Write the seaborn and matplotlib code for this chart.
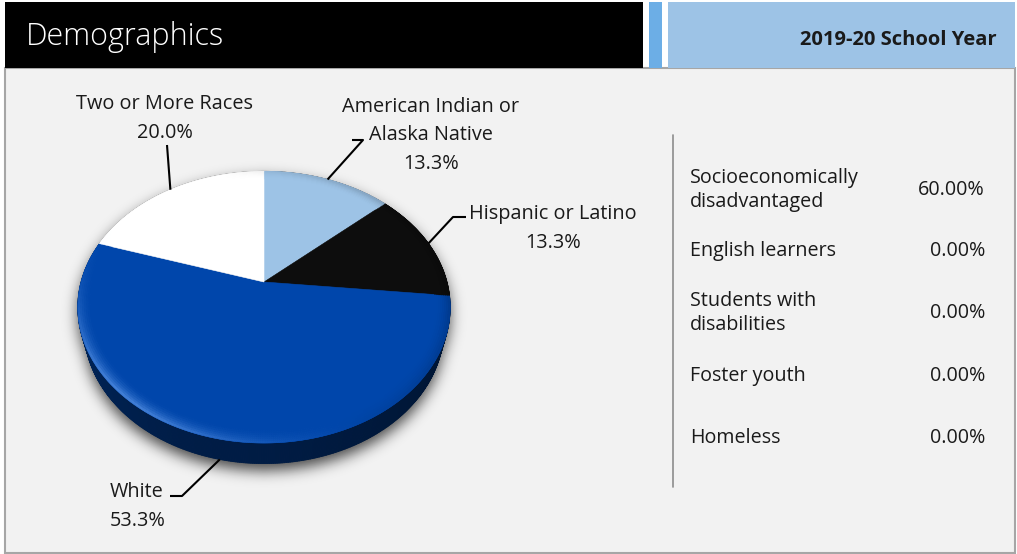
import numpy as np
import matplotlib
matplotlib.use("Agg")
import matplotlib.pyplot as plt
import matplotlib.colors as mcolors
from matplotlib.patches import Polygon, Rectangle
from matplotlib.collections import PolyCollection
from matplotlib.path import Path
import seaborn as sns

sns.set_theme(style="white")
plt.rcParams["font.family"] = ["Open Sans", "DejaVu Sans"]

# ---- data -------------------------------------------------------------
title = "Demographics"
year_label = "2019-20 School Year"

groups = ["American Indian or\nAlaska Native", "Hispanic or Latino", "White", "Two or More Races"]
shares = [13.3, 13.3, 53.3, 20.0]
slice_colors = sns.color_palette(["#9dc3e6", "#0d0d0d", "#0046ab", "#ffffff"])

student_groups = ["Socioeconomically\ndisadvantaged", "English learners",
                  "Students with\ndisabilities", "Foster youth", "Homeless"]
student_rates = [60.00, 0.00, 0.00, 0.00, 0.00]

# ---- canvas -----------------------------------------------------------
W, H = 1017, 554
fig = plt.figure(figsize=(W / 100, H / 100), dpi=100)
fig.patch.set_facecolor("white")
ax = fig.add_axes([0, 0, 1, 1])
ax.set_xlim(0, W)
ax.set_ylim(H, 0)
ax.axis("off")

# header and panel
ax.add_patch(Rectangle((5, 68), 1010, 485, facecolor="#f2f2f2", edgecolor="#a6a6a6", lw=1.5, zorder=0))
ax.add_patch(Rectangle((5, 2), 638, 66, facecolor="black", edgecolor="none", zorder=1))
ax.add_patch(Rectangle((649, 2), 13, 66, facecolor="#6caee6", edgecolor="none", zorder=1))
ax.add_patch(Rectangle((668, 2), 347, 66, facecolor="#9dc3e6", edgecolor="none", zorder=1))
ax.text(26, 37, title, color="white", fontsize=22, fontweight="light", va="center", ha="left", zorder=2)
ax.text(997, 40, year_label, color="#1a1a1a", fontsize=14.5, fontweight="bold", va="center", ha="right", zorder=2)

# ---- 3-D pie in perspective ------------------------------------------
FOCAL, DIST, TILT, DEPTH = 688.0, 3.76, np.radians(45.8), 0.18
CX, CY = 264.0, 282.0


def project(phi, r=1.0, z=0.0):
    X = r * np.sin(phi)
    Y = r * np.cos(phi)
    yc = Y * np.sin(TILT) + z * np.cos(TILT)
    zc = DIST + Y * np.cos(TILT) - z * np.sin(TILT)
    return CX + FOCAL * X / zc, CY - FOCAL * yc / zc


def mix(c, target, t):
    c = np.asarray(mcolors.to_rgb(c))
    target = np.asarray(mcolors.to_rgb(target))
    return tuple(np.clip(c + (target - c) * t, 0, 1))


fractions = np.asarray(shares) / np.sum(shares)
bounds = 2 * np.pi * np.concatenate([[0], np.cumsum(fractions)])


def slice_index(phi):
    phi = phi % (2 * np.pi)
    return int(np.clip(np.searchsorted(bounds, phi, side="right") - 1, 0, len(shares) - 1))


# soft drop shadow
full = np.linspace(0, 2 * np.pi, 721)
top_rim = np.column_stack(project(full))
bot_rim = np.column_stack(project(full, z=-DEPTH))
gx0, gx1, gy0, gy1 = 30, 500, 140, 530
gx, gy = np.meshgrid(np.arange(gx0, gx1) + 0.5, np.arange(gy0, gy1) + 0.5)
pts = np.column_stack([gx.ravel(), gy.ravel() - 7])
mask = Path(top_rim).contains_points(pts) | Path(bot_rim).contains_points(pts)
mask = mask.reshape(gx.shape).astype(float)
k = np.arange(-24, 25)
kern = np.exp(-0.5 * (k / 7.0) ** 2)
kern /= kern.sum()
blur = np.apply_along_axis(lambda v: np.convolve(v, kern, mode="same"), 1, mask)
blur = np.apply_along_axis(lambda v: np.convolve(v, kern, mode="same"), 0, blur)
shadow = np.zeros(gx.shape + (4,))
shadow[..., 3] = 0.7 * blur
ax.imshow(shadow, extent=(gx0, gx1, gy1, gy0), interpolation="bilinear", zorder=3)

# side wall
n_side = 720
phis = np.linspace(0, 2 * np.pi, n_side + 1)
quads, qcols, depth_key = [], [], []
for a0, a1 in zip(phis[:-1], phis[1:]):
    am = 0.5 * (a0 + a1)
    t0, t1 = project(a0), project(a1)
    b0, b1 = project(a0, z=-DEPTH), project(a1, z=-DEPTH)
    quads.append([t0, t1, b1, b0])
    base = slice_colors[slice_index(am)]
    dark = 0.6 + 0.1 * max(0.0, np.sin(am)) - 0.12 * max(0.0, -np.sin(am)) ** 2
    qcols.append(mix(base, "black", dark))
    depth_key.append(np.cos(am))
order = np.argsort(depth_key)[::-1]
ax.add_collection(PolyCollection([quads[i] for i in order], facecolors=[qcols[i] for i in order],
                                 edgecolors=[qcols[i] for i in order], linewidths=0.6, zorder=4))

# top face
for i, color in enumerate(slice_colors):
    arc = np.linspace(bounds[i], bounds[i + 1], 200)
    xs, ys = project(arc)
    poly = np.column_stack([np.r_[CX, xs], np.r_[CY, ys]])
    ax.add_patch(Polygon(poly, closed=True, facecolor=color, edgecolor=color, lw=0.4, zorder=5))

# bevel along the rim: highlight on the near-left edge, shade on the far-right edge
ring_r = np.linspace(0.92, 1.0, 9)
bevel, bcols = [], []
for r0, r1 in zip(ring_r[:-1], ring_r[1:]):
    t = ((0.5 * (r0 + r1) - 0.92) / 0.08) ** 2
    for a0, a1 in zip(phis[:-1], phis[1:]):
        am = 0.5 * (a0 + a1)
        base = slice_colors[slice_index(am)]
        hi = max(0.0, np.cos(am - np.radians(222))) ** 4 * t
        sh = max(0.0, np.cos(am - np.radians(75))) * t
        c = mix(base, "#7fb4ff", 0.6 * hi)
        c = mix(c, "black", 0.2 * sh)
        bevel.append([project(a0, r0), project(a1, r0), project(a1, r1), project(a0, r1)])
        bcols.append(c)
ax.add_collection(PolyCollection(bevel, facecolors=bcols, edgecolors=bcols, linewidths=0.3, zorder=6))

# ---- data labels with leader lines -----------------------------------
label_fs = 14.3
label_specs = [
    # (text x, first line y, alignment, leader points before the rim end, rim z)
    (431, 107, "center", [(352, 140), (363, 140)], 0.0),
    (553, 214, "center", [(466, 217), (453, 217)], 0.0),
    (110, 492, "left", [(170, 496), (182, 496)], -DEPTH),
    (165, 104, "center", [(167, 145)], 0.0),
]
line_gap = 28.5
for i, (tx, ty, ha, lead, rz) in enumerate(label_specs):
    lines = groups[i].split("\n") + [f"{shares[i]:.1f}%"]
    for j, s in enumerate(lines):
        ax.text(tx, ty + j * line_gap, s, fontsize=label_fs, color="#1a1a1a", ha=ha, va="center", zorder=8)
    mid = 0.5 * (bounds[i] + bounds[i + 1])
    rx, ry = project(mid, z=rz)
    lx = [p[0] for p in lead] + [rx]
    ly = [p[1] for p in lead] + [ry]
    ax.plot(lx, ly, color="black", lw=1.5, solid_capstyle="butt", zorder=7)

# ---- student group table ---------------------------------------------
ax.plot([673, 673], [135, 487], color="#8c8c8c", lw=1.2, zorder=2)
row_y = [190, 251, 313, 376, 438]
for name, rate, y in zip(student_groups, student_rates, row_y):
    parts = name.split("\n")
    offs = np.arange(len(parts)) * 25 - (len(parts) - 1) * 12.5
    for s, o in zip(parts, offs):
        ax.text(690, y + o, s, fontsize=14.2, color="#1a1a1a", ha="left", va="center", zorder=2)
    ax.text(985, y, f"{rate:.2f}%", fontsize=14.2, color="#1a1a1a", ha="right", va="center", zorder=2)

fig.savefig("out.png", dpi=100, facecolor=fig.get_facecolor())
